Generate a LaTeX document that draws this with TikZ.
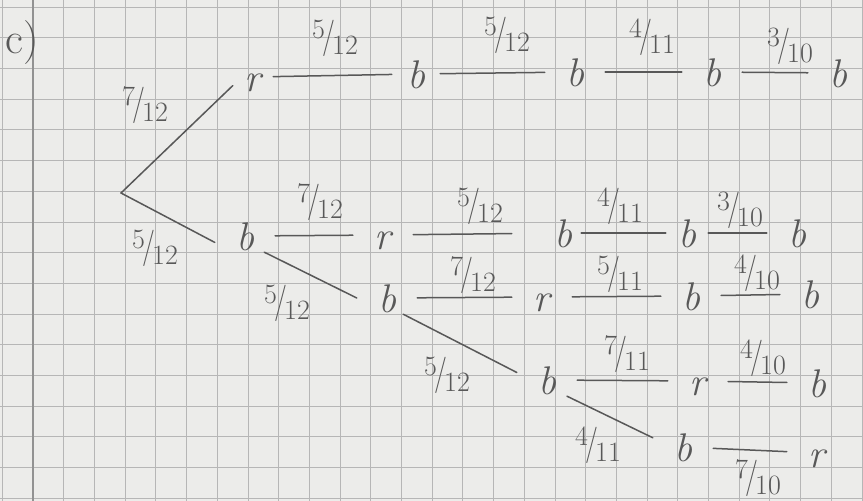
\documentclass[tikz,border=0pt]{standalone}
\usepackage{fontspec,graphicx}
\definecolor{paper}{RGB}{236,236,234}
\definecolor{gridline}{RGB}{182,182,182}
\definecolor{pencil}{RGB}{88,88,88}
\newcommand{\sfr}[2]{\raisebox{.3em}{#1}\kern-.1em\scalebox{1}[1.3]{/}\kern-.1em\raisebox{-.25em}{#2}}

\begin{document}
\begin{tikzpicture}[x=1pt,y=-1pt,
  leaf/.style={inner sep=2pt,minimum width=60pt,text height=28pt,text depth=0pt,text=pencil,font=\fontsize{40}{48}\selectfont\itshape},
  prob/.style={inner sep=0pt,text=pencil,font=\fontsize{28}{33.6}\selectfont},
  branch/.style={draw=pencil,line width=1.5pt,line cap=round}]
\path[use as bounding box] (0,0) rectangle (863,501);
\fill[paper] (0,0) rectangle (863,501);
% squared paper
\foreach \i in {-1,...,27} \draw[gridline,line width=0.8pt] (33+30.7*\i,0) -- (33+30.7*\i,501);
\foreach \j in {0,...,16} \draw[gridline,line width=0.8pt] (0,7+30.7*\j) -- (863,7+30.7*\j);
\draw[gridline!80!black,line width=1.2pt] (33,0) -- (33,501);
\node[inner sep=0pt,text=pencil,font=\fontsize{44}{52}\selectfont] (part) at (22,43) {c)};
% tree
\coordinate (o) at (121,193);
\node[leaf,minimum width=40pt] (r1) at (253,77) {r};
\node[leaf,minimum width=48pt] (rb1) at (416,74) {b};
\node[leaf] (rb2) at (575,72) {b};
\node[leaf] (rb3) at (712,72) {b};
\node[leaf] (rb4) at (838,73) {b};
\node[leaf] (b1) at (245,236) {b};
\node[leaf] (r2) at (383,235) {r};
\node[leaf,minimum width=36pt] (b2a) at (563,233) {b};
\node[leaf,minimum width=42pt] (b2b) at (687,233) {b};
\node[leaf] (b2c) at (797,233) {b};
\node[leaf] (bB) at (387,298) {b};
\node[leaf] (rB) at (542,297) {r};
\node[leaf] (bB2) at (691,296) {b};
\node[leaf] (bB3) at (810,294) {b};
\node[leaf] (bC) at (547,380) {b};
\node[leaf] (rC) at (698,381) {r};
\node[leaf] (bC2) at (817,383) {b};
\node[leaf] (bD) at (683,447) {b};
\node[leaf] (rD) at (817,453) {r};
% branches
\draw[branch] (o) -- (r1.203);
\draw[branch] (o) -- (b1.192);
\draw[branch] (r1) -- (rb1);
\draw[branch] (rb1) -- (rb2);
\draw[branch] (rb2) -- (rb3);
\draw[branch] (rb3) -- (rb4);
\draw[branch] (b1) -- (r2);
\draw[branch,shorten >=33pt] (r2) -- (b2a);
\draw[branch] (b2a) -- (b2b);
\draw[branch] (b2b) -- (b2c);
\draw[branch] (b1.-40) -- (bB.west);
\draw[branch] (bB) -- (rB);
\draw[branch] (rB) -- (bB2);
\draw[branch] (bB2) -- (bB3);
\draw[branch] (bB.-45) -- (bC.166);
\draw[branch] (bC) -- (rC);
\draw[branch] (rC) -- (bC2);
\draw[branch] (bC.-39) -- (bD.163);
\draw[branch] (bD) -- (rD);
% probabilities
\node[prob] (q1) at (145,105) {\sfr{7}{12}};
\node[prob] (q2) at (155,248) {\sfr{5}{12}};
\node[prob] (q3) at (335,38) {\sfr{5}{12}};
\node[prob] (q4) at (507,35) {\sfr{5}{12}};
\node[prob] (q5) at (652,37) {\sfr{4}{11}};
\node[prob] (q6) at (790,46) {\sfr{3}{10}};
\node[prob] (q7) at (320,202) {\sfr{7}{12}};
\node[prob] (q8) at (480,206) {\sfr{5}{12}};
\node[prob] (q9) at (620,206) {\sfr{4}{11}};
\node[prob] (q10) at (740,210) {\sfr{3}{10}};
\node[prob] (q11) at (287,303) {\sfr{5}{12}};
\node[prob] (q12) at (473,275) {\sfr{7}{12}};
\node[prob] (q13) at (620,274) {\sfr{5}{11}};
\node[prob] (q14) at (757,273) {\sfr{4}{10}};
\node[prob] (q15) at (447,375) {\sfr{5}{12}};
\node[prob] (q16) at (627,354) {\sfr{7}{11}};
\node[prob] (q17) at (763,358) {\sfr{4}{10}};
\node[prob] (q18) at (598,445) {\sfr{4}{11}};
\node[prob] (q19) at (758,478) {\sfr{7}{10}};
\end{tikzpicture}
\end{document}
